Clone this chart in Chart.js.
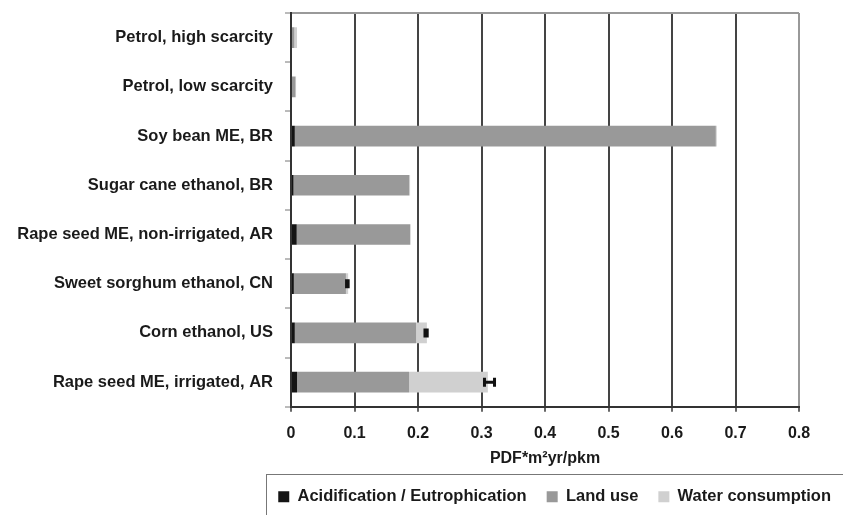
<!DOCTYPE html>
<html>
<head>
<meta charset="utf-8">
<script src="https://cdn.jsdelivr.net/npm/chart.js@4.4.1/dist/chart.umd.min.js"></script>
<style>
  html, body { margin: 0; padding: 0; background: #fff; }
</style>
</head>
<body>
<canvas id="impactChart" width="843" height="515"></canvas>
<script>
var categories = [
  'Petrol, high scarcity',
  'Petrol, low scarcity',
  'Soy bean ME, BR',
  'Sugar cane ethanol, BR',
  'Rape seed ME, non-irrigated, AR',
  'Sweet sorghum ethanol, CN',
  'Corn ethanol, US',
  'Rape seed ME, irrigated, AR'
];
var acidification = [0, 0, 0.006, 0.004, 0.009, 0.0045, 0.006, 0.0095];
var landUse = [0.0053, 0.007, 0.663, 0.182, 0.1785, 0.082, 0.191, 0.1765];
var waterUse = [0.0042, 0.001, 0.0015, 0.0015, 0.001, 0.0035, 0.017, 0.124];
var errLow = [null, null, null, null, null, 0.0875, 0.211, 0.3047];
var errHigh = [null, null, null, null, null, 0.09, 0.2145, 0.3205];
var xMin = 0, xMax = 0.8, xStep = 0.1;
var xTitle = 'PDF*m\u00b2yr/pkm';

var fontFamily = "'Liberation Sans', Arial, Helvetica, sans-serif";

// error bars drawn through the x / y scales
var errorBars = {
  id: 'errorBars',
  afterDatasetsDraw: function (chart) {
    var ctx = chart.ctx;
    var xs = chart.scales.x;
    var ys = chart.scales.y;
    ctx.save();
    ctx.strokeStyle = '#111';
    ctx.lineWidth = 3;
    categories.forEach(function (c, i) {
      if (errLow[i] == null) return;
      var x1 = xs.getPixelForValue(errLow[i]);
      var x2 = xs.getPixelForValue(errHigh[i]);
      var yc = ys.getPixelForValue(i);
      ctx.beginPath();
      ctx.moveTo(x1, yc);
      ctx.lineTo(x2, yc);
      ctx.moveTo(x1, yc - 4.5);
      ctx.lineTo(x1, yc + 4.5);
      ctx.moveTo(x2, yc - 4.5);
      ctx.lineTo(x2, yc + 4.5);
      ctx.stroke();
    });
    ctx.restore();
  }
};

// frame around the legend, running off the bottom/right of the canvas
var legendFrame = {
  id: 'legendFrame',
  afterDraw: function (chart) {
    var boxes = chart.legend.legendHitBoxes;
    if (!boxes || !boxes.length) return;
    var ctx = chart.ctx;
    var left = Math.round(boxes[0].left - 12) + 0.5;
    var top = Math.round(chart.legend.top + 5) + 0.5;
    ctx.save();
    ctx.strokeStyle = '#777';
    ctx.lineWidth = 1;
    ctx.strokeRect(left, top, chart.width - left + 20, chart.height);
    ctx.restore();
  }
};

var ctx = document.getElementById('impactChart').getContext('2d');
var impactChart = new Chart(ctx, {
  type: 'bar',
  data: {
    labels: categories,
    datasets: [
      {
        label: 'Acidification / Eutrophication',
        data: acidification,
        backgroundColor: '#141414',
        borderWidth: 0
      },
      {
        label: 'Land use',
        data: landUse,
        backgroundColor: '#999999',
        borderWidth: 0
      },
      {
        label: 'Water consumption',
        data: waterUse,
        backgroundColor: '#d0d0d0',
        borderWidth: 0
      }
    ]
  },
  options: {
    indexAxis: 'y',
    responsive: false,
    animation: false,
    barPercentage: 0.42,
    categoryPercentage: 1,
    layout: {
      padding: { top: 13, right: -8, bottom: 0, left: 0 }
    },
    plugins: {
      tooltip: { enabled: false },
      legend: {
        position: 'bottom',
        align: 'end',
        labels: {
          boxWidth: 11,
          boxHeight: 11,
          padding: 20,
          color: '#1a1a1a',
          font: { family: fontFamily, size: 16.5, weight: 'bold' }
        }
      }
    },
    scales: {
      x: {
        stacked: true,
        min: xMin,
        max: xMax,
        afterFit: function (s) { s.height = 61.75; },
        ticks: {
          stepSize: xStep,
          padding: 12,
          color: '#1a1a1a',
          font: { family: fontFamily, size: 16, weight: 'bold' }
        },
        grid: {
          color: function (c) {
            return c.tick && Math.abs(c.tick.value - xMax) < 1e-6 ? '#999' : '#444';
          },
          lineWidth: 2,
          tickLength: 5,
          tickColor: '#333',
          tickWidth: 1.5
        },
        border: { color: '#333', width: 2 },
        title: {
          display: true,
          text: xTitle,
          color: '#1a1a1a',
          padding: { top: 0, bottom: 0 },
          font: { family: fontFamily, size: 16, weight: 'bold' }
        }
      },
      y: {
        stacked: true,
        afterFit: function (s) {
          s.width = 291;
          s.paddingTop = 0;
          s.paddingBottom = 0;
        },
        ticks: {
          padding: 12,
          color: '#1a1a1a',
          font: { family: fontFamily, size: 16.5, weight: 'bold' }
        },
        grid: {
          color: function (c) { return c.index === 0 ? '#999' : 'rgba(0,0,0,0)'; },
          lineWidth: 2,
          tickLength: 6,
          tickColor: '#777',
          tickWidth: 1
        },
        border: { color: '#333', width: 2 }
      },
      y2: {
        type: 'linear',
        position: 'right',
        afterFit: function (s) {
          s.width = 52;
          s.paddingTop = 0;
          s.paddingBottom = 0;
        },
        ticks: { display: false },
        grid: { display: false },
        border: { display: false }
      }
    }
  },
  plugins: [errorBars, legendFrame]
});
</script>
</body>
</html>
